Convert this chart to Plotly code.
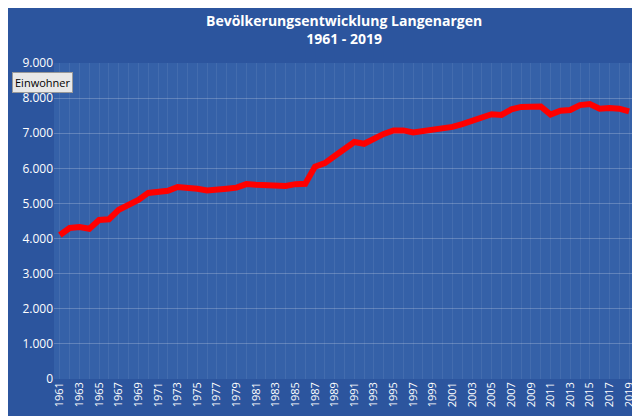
import plotly.graph_objects as go

years = list(range(1961, 2020))
einwohner = [4100, 4300, 4330, 4280, 4530, 4550, 4820, 4950, 5100, 5300,
             5320, 5360, 5470, 5460, 5420, 5370, 5380, 5420, 5450, 5550,
             5530, 5530, 5510, 5500, 5550, 5560, 6050, 6150, 6350, 6530,
             6750, 6700, 6850, 6980, 7080, 7080, 7020, 7060, 7060, 7100,
             7180, 7260, 7350, 7460, 7540, 7520, 7680, 7750, 7750, 7760,
             7530, 7640, 7660, 7800, 7830, 7700, 7720, 7700, 7620]
tick_years = list(range(1961, 2020, 2))

fig = go.Figure()
fig.add_trace(go.Scatter(x=years, y=einwohner, mode="lines",
                         line=dict(color="#ff0000", width=6), hoverinfo="skip"))
fig.update_layout(
    width=640, height=416, separators=",.",
    paper_bgcolor="#2c559e", plot_bgcolor="#3561a8",
    margin=dict(l=46, r=12, t=55, b=45),
    showlegend=False,
    xaxis=dict(range=[1960.4, 2019.4], tickmode="array", tickvals=tick_years,
               ticktext=[str(y) for y in tick_years], tickangle=-90,
               tickfont=dict(family="Open Sans", size=11, color="white"),
               showgrid=False, zeroline=False, showline=False),
    yaxis=dict(range=[0, 9000], dtick=1000, tickformat=",d",
               tickfont=dict(family="Open Sans", size=12, color="white"),
               showgrid=True, gridcolor="rgba(255,255,255,0.22)",
               zeroline=False, showline=False),
    annotations=[
        dict(text="<b>Bevölkerungsentwicklung Langenargen<br>1961 - 2019</b>",
             xref="paper", yref="paper", x=0.5, y=1.17, xanchor="center", yanchor="top",
             showarrow=False, font=dict(family="Open Sans", size=14, color="white")),
        dict(text="Einwohner", xref="paper", yref="paper", x=-0.072, y=0.937,
             xanchor="left", yanchor="middle", showarrow=False,
             bgcolor="#e8e8e8", bordercolor="#999", borderwidth=1, borderpad=2,
             font=dict(family="Open Sans", size=11, color="black"))],
)
fig.update_xaxes(minor=dict(tickvals=years, showgrid=True, gridcolor="rgba(255,255,255,0.07)"))
fig.write_html("out.html")
